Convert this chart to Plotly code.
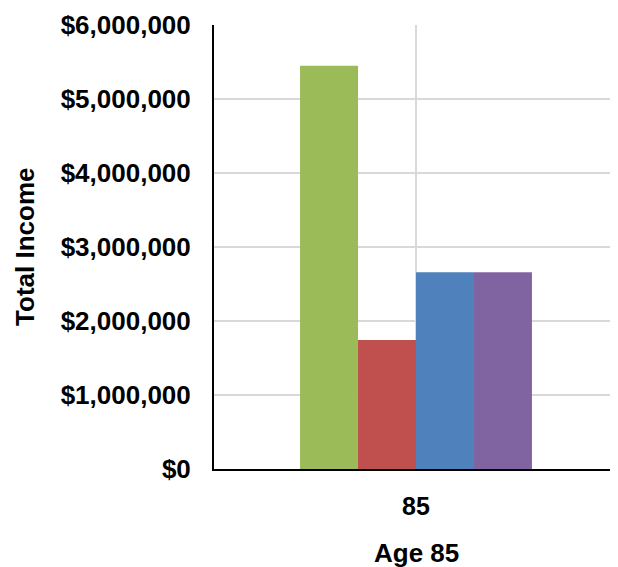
import plotly.graph_objects as go

categories = ["85"]
series_names = ["Series 1", "Series 2", "Series 3", "Series 4"]
series_values = [[5450000], [1743000], [2658000], [2658000]]
series_colors = ["#9BBB59", "#C0504D", "#4F81BD", "#8064A2"]
y_tick_values = [0, 1000000, 2000000, 3000000, 4000000, 5000000, 6000000]
y_tick_labels = ["$" + format(v, ",") for v in y_tick_values]

FONT = "Liberation Sans, Arial, sans-serif"

fig = go.Figure()
for name, vals, col in zip(series_names, series_values, series_colors):
    fig.add_trace(go.Bar(x=categories, y=vals, name=name, marker=dict(color=col, line=dict(width=0))))

fig.update_layout(
    width=610, height=559,
    margin=dict(l=206, r=0, t=17, b=98),
    paper_bgcolor="white", plot_bgcolor="white",
    barmode="group", bargap=0.426, bargroupgap=0,
    showlegend=False,
    font=dict(family=FONT, color="black"),
)
fig.update_yaxes(
    range=[0, 6000000], tickvals=y_tick_values, ticktext=y_tick_labels,
    showgrid=True, gridcolor="#d9d9d9", gridwidth=1.5,
    showline=True, linecolor="black", linewidth=2,
    ticks="", ticklabelstandoff=16,
    tickfont=dict(family=FONT, size=26, weight="bold", color="black"),
    zeroline=False,
)
fig.update_xaxes(
    type="category",
    showgrid=True, gridcolor="#d9d9d9", gridwidth=1.5,
    showline=True, linecolor="black", linewidth=2,
    ticks="", ticklabelstandoff=14,
    tickfont=dict(family=FONT, size=25, weight="bold", color="black"),
)
fig.add_annotation(text="Total Income", xref="paper", yref="paper", x=-0.468, y=0.5,
                   xanchor="center", yanchor="middle", textangle=-90, showarrow=False,
                   font=dict(family=FONT, size=26, weight="bold", color="black"))
fig.add_annotation(text="Age 85", xref="paper", yref="paper", x=0.5, y=-0.189,
                   xanchor="center", yanchor="middle", showarrow=False,
                   font=dict(family=FONT, size=26, weight="bold", color="black"))

fig.write_html("out.html")
